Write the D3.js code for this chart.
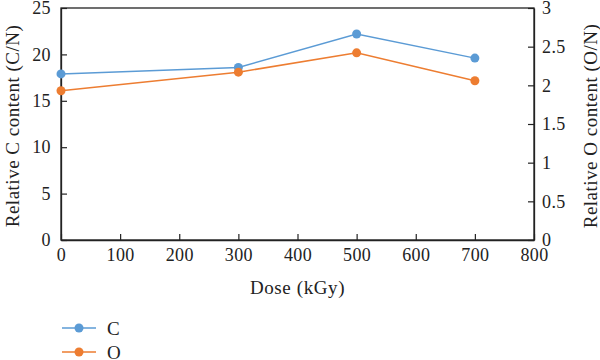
<!DOCTYPE html>
<html>
<head>
<meta charset="utf-8">
<script src="https://cdn.jsdelivr.net/npm/d3@7"></script>
<style>
  body { margin: 0; background: #fff; }
  text { font-family: "Liberation Serif", "DejaVu Serif", serif; fill: #222; }
</style>
</head>
<body>
<div class="chart_area"></div>
<script>
// data
var dose = [0, 300, 500, 700];
var cValues = [17.9, 18.6, 22.2, 19.6];   // left axis, C/N
var oValues = [1.93, 2.17, 2.42, 2.06];   // right axis, O/N
var xTicks = [0, 100, 200, 300, 400, 500, 600, 700, 800];
var yLeftTicks = [0, 5, 10, 15, 20, 25];
var yRightTicks = [0, 0.5, 1, 1.5, 2, 2.5, 3];

var blue = "#5b9bd5", orange = "#ed7d31";

var margin = {top: 8, right: 66, bottom: 120, left: 61},
    width = 600 - margin.left - margin.right,
    height = 360 - margin.top - margin.bottom;

var svg = d3.select(".chart_area")
  .append("svg")
  .attr("width", 600)
  .attr("height", 360)
  .append("g")
  .attr("transform", "translate(" + margin.left + "," + margin.top + ")");

var x = d3.scaleLinear().domain([0, 800]).range([0, width]);
var yL = d3.scaleLinear().domain([0, 25]).range([height, 0]);
var yR = d3.scaleLinear().domain([0, 3]).range([height, 0]);

// frame
svg.append("rect")
  .attr("width", width).attr("height", height)
  .attr("fill", "none").attr("stroke", "#222").attr("stroke-width", 1.3);

var xAxis = svg.append("g")
  .attr("transform", "translate(0," + height + ")")
  .call(d3.axisBottom(x).tickValues(xTicks).tickSizeInner(-6).tickSizeOuter(0).tickPadding(8));

var lAxis = svg.append("g")
  .call(d3.axisLeft(yL).tickValues(yLeftTicks).tickSizeInner(-6).tickSizeOuter(0).tickPadding(10));

var rAxis = svg.append("g")
  .attr("transform", "translate(" + width + ",0)")
  .call(d3.axisRight(yR).tickValues(yRightTicks).tickFormat(d3.format("")).tickSizeInner(-6).tickSizeOuter(0).tickPadding(8));

[xAxis, lAxis, rAxis].forEach(function(a) {
  a.select(".domain").attr("stroke", "#222").attr("stroke-width", 1.3);
  a.selectAll(".tick line").attr("stroke", "#222").attr("stroke-width", 1.2);
  a.selectAll(".tick text").style("font-size", "18px").style("letter-spacing", "0.4px").attr("fill", "#222");
});

// axis titles
svg.append("text")
  .attr("x", width / 2).attr("y", 294 - margin.top)
  .attr("text-anchor", "middle").style("font-size", "19px").style("letter-spacing", "0.6px")
  .text("Dose (kGy)");

svg.append("text")
  .attr("transform", "translate(" + (19 - margin.left) + "," + (height / 2 + 2) + ") rotate(-90)")
  .attr("text-anchor", "middle").style("font-size", "19px").style("letter-spacing", "0.5px")
  .text("Relative C content (C/N)");

svg.append("text")
  .attr("transform", "translate(" + (597 - margin.left) + "," + (height / 2 + 2) + ") rotate(-90)")
  .attr("text-anchor", "middle").style("font-size", "19px").style("letter-spacing", "0.5px")
  .text("Relative O content (O/N)");

// series
var series = [
  {name: "C", color: blue, values: cValues, y: yL},
  {name: "O", color: orange, values: oValues, y: yR}
];

series.forEach(function(s) {
  var pts = dose.map(function(d, i) { return [d, s.values[i]]; });
  var line = d3.line()
    .x(function(p) { return x(p[0]); })
    .y(function(p) { return s.y(p[1]); });
  svg.append("path")
    .datum(pts)
    .attr("d", line)
    .attr("fill", "none")
    .attr("stroke", s.color)
    .attr("stroke-width", 1.5);
  svg.selectAll(null)
    .data(pts)
    .enter()
    .append("circle")
      .attr("cx", function(p) { return x(p[0]); })
      .attr("cy", function(p) { return s.y(p[1]); })
      .attr("r", 4.5)
      .attr("fill", s.color);
});

// legend
var legend = d3.select("svg").append("g");
series.forEach(function(s, i) {
  var ly = 328 + i * 24;
  legend.append("line")
    .attr("x1", 62).attr("x2", 96).attr("y1", ly).attr("y2", ly)
    .attr("stroke", s.color).attr("stroke-width", 1.5);
  legend.append("circle")
    .attr("cx", 79).attr("cy", ly).attr("r", 4.5).attr("fill", s.color);
  legend.append("text")
    .attr("x", 107).attr("y", ly + 7)
    .style("font-size", "19px")
    .text(s.name);
});
</script>
</body>
</html>
